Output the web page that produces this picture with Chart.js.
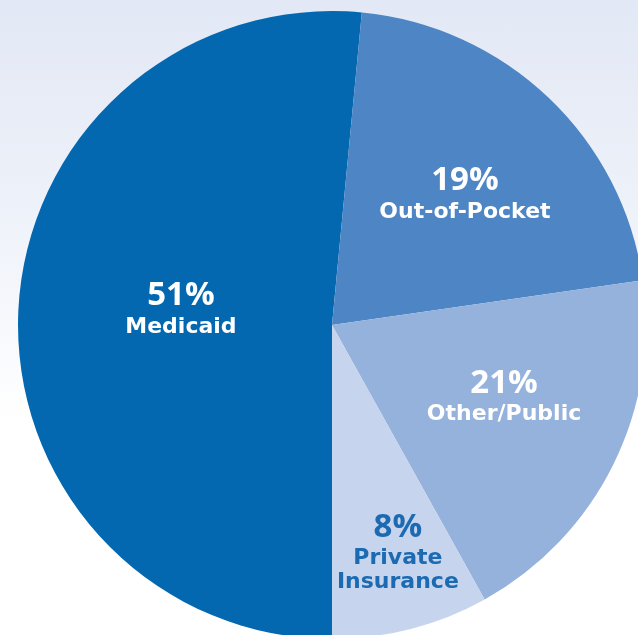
<!DOCTYPE html>
<html>
<head>
<meta charset="utf-8">
<script src="https://cdn.jsdelivr.net/npm/chart.js@4"></script>
<style>
  html, body {
    margin: 0;
    padding: 0;
    width: 638px;
    height: 635px;
    overflow: hidden;
    background: linear-gradient(to bottom, #e2e8f5 0px, #edf1f9 200px, #fafbfe 360px, #ffffff 420px);
  }
  #wrap {
    position: absolute;
    left: 18px;
    top: 11px;
    width: 628px;
    height: 628px;
  }
</style>
</head>
<body>
<div id="wrap"><canvas id="pieChart"></canvas></div>
<script>
// categories and slice sizes as drawn in the picture
const categories = ['Medicaid', 'Out-of-Pocket', 'Other/Public', 'Private Insurance'];
const sliceValues = [51, 21, 19, 8];
// percentages printed on the slices
const percentText = ['51%', '19%', '21%', '8%'];
const nameLines = [['Medicaid'], ['Out-of-Pocket'], ['Other/Public'], ['Private', 'Insurance']];

const sliceColors = ['#0468b1', '#4e86c5', '#95b2dc', '#c6d4ed'];
const textColors = ['#ffffff', '#ffffff', '#ffffff', '#1b6ab2'];
// label placement: fraction of radius and angle nudge (degrees)
const labelPlace = [
  { r: 0.49, da: 8.2 },
  { r: 0.624, da: -0.9 },
  { r: 0.579, da: -7.5 },
  { r: 0.677, da: -3.5 }
];

const sliceLabels = {
  id: 'sliceLabels',
  afterDatasetsDraw(chart) {
    const c = chart.ctx;
    const arcs = chart.getDatasetMeta(0).data;
    c.save();
    c.textAlign = 'center';
    c.textBaseline = 'middle';
    arcs.forEach((arc, i) => {
      const p = labelPlace[i];
      const mid = (arc.startAngle + arc.endAngle) / 2 + p.da * Math.PI / 180;
      const x = arc.x + Math.cos(mid) * arc.outerRadius * p.r;
      const y = arc.y + Math.sin(mid) * arc.outerRadius * p.r;
      c.fillStyle = textColors[i];
      c.font = 'bold 33px "Open Sans"';
      c.fillText(percentText[i], x, y);
      c.font = 'bold 22px "DejaVu Sans"';
      nameLines[i].forEach((line, j) => {
        c.fillText(line, x, y + 31 + j * 24);
      });
    });
    c.restore();
  }
};

new Chart(document.getElementById('pieChart'), {
  type: 'pie',
  data: {
    labels: categories,
    datasets: [{
      data: sliceValues,
      backgroundColor: sliceColors,
      borderWidth: 0,
      hoverOffset: 0
    }]
  },
  options: {
    responsive: true,
    maintainAspectRatio: false,
    animation: false,
    rotation: 180,
    layout: { padding: 0 },
    plugins: {
      legend: { display: false },
      tooltip: { enabled: false }
    }
  },
  plugins: [sliceLabels]
});
</script>
</body>
</html>
